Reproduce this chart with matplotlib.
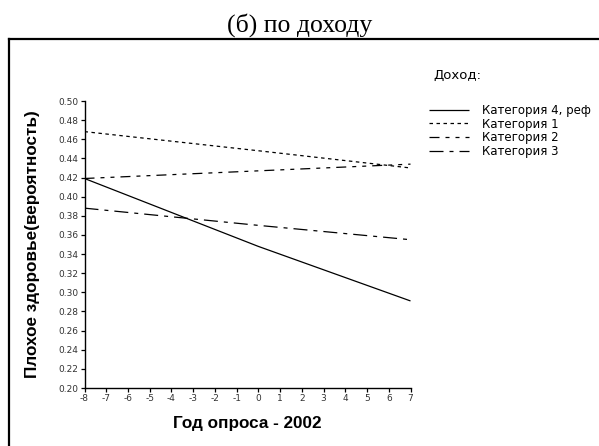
import numpy as np
import matplotlib.pyplot as plt
from matplotlib.lines import Line2D

plt.rcParams['font.family'] = ['Liberation Sans', 'DejaVu Sans']
plt.rcParams['lines.scale_dashes'] = False
plt.rcParams['axes.unicode_minus'] = False

# data (x = survey year - 2002)
years = [-8, 0, 7]
cat4_ref = [0.419, 0.348, 0.291]
cat1 = [0.468, 0.448, 0.430]
cat2 = [0.419, 0.427, 0.434]
cat3 = [0.388, 0.370, 0.355]

labels = ["Категория 4, реф", "Категория 1", "Категория 2", "Категория 3"]
series = [cat4_ref, cat1, cat2, cat3]

px = 0.72  # pixels -> points at dpi 100
styles = [
    (0, ()),
    (0, (3.5 * px, 3.5 * px)),
    (0, (10 * px, 6 * px, 4 * px, 6 * px, 4 * px, 6 * px)),
    (0, (14 * px, 6 * px, 4 * px, 6 * px)),
]

xticks = list(range(-8, 8))
yticks = np.round(np.arange(0.20, 0.501, 0.02), 2)

fig = plt.figure(figsize=(5.99, 4.46), dpi=100)

# outer frame (left and top edges visible)
fig.add_artist(Line2D([9 / 599, 9 / 599], [0, 1 - 38.5 / 446], transform=fig.transFigure,
                      color='black', lw=1.6, solid_capstyle='projecting'))
fig.add_artist(Line2D([9 / 599, 1], [1 - 38.5 / 446, 1 - 38.5 / 446], transform=fig.transFigure,
                      color='black', lw=1.6, solid_capstyle='projecting'))

fig.text(300 / 599, 1 - 31.5 / 446, "(б) по доходу", ha='center', va='baseline',
         fontsize=18.5, family=['Liberation Serif', 'DejaVu Serif'])

ax = fig.add_axes([84.5 / 599, 58 / 446, 326 / 599, 287 / 446])

handles = []
for vals, lab, ls in zip(series, labels, styles):
    h, = ax.plot(years, vals, color='black', lw=0.9, linestyle=ls, label=lab)
    handles.append(h)

ax.set_xlim(-8, 7)
ax.set_ylim(0.20, 0.50)
ax.set_xticks(xticks)
ax.set_yticks(yticks)
ax.set_yticklabels([f"{v:.2f}" for v in yticks])
ax.tick_params(direction='out', length=3, width=0.9, labelsize=6.5, colors='black',
               labelcolor='#333333', pad=1.5)
for t in ax.get_xticklabels() + ax.get_yticklabels():
    t.set_family('DejaVu Sans')
for s in ['top', 'right']:
    ax.spines[s].set_visible(False)
for s in ['left', 'bottom']:
    ax.spines[s].set_linewidth(1.0)

ax.set_xlabel("Год опроса - 2002", fontsize=12.3, fontweight='bold', labelpad=9)
ax.set_ylabel("Плохое здоровье(вероятность)", fontsize=12.3, fontweight='bold', labelpad=13)

fig.text(433 / 599, 1 - 75 / 446, "Доход:", ha='left', va='center', fontsize=9.5,
         family='DejaVu Sans')
fig.legend(handles=handles, loc='upper left', bbox_to_anchor=(429 / 599, 1 - 104 / 446),
           frameon=False, prop={'family': 'DejaVu Sans', 'size': 8.5},
           handlelength=3.4, handletextpad=1.1,
           labelspacing=0.05, borderpad=0, borderaxespad=0)

fig.savefig('out.png', dpi=100)
